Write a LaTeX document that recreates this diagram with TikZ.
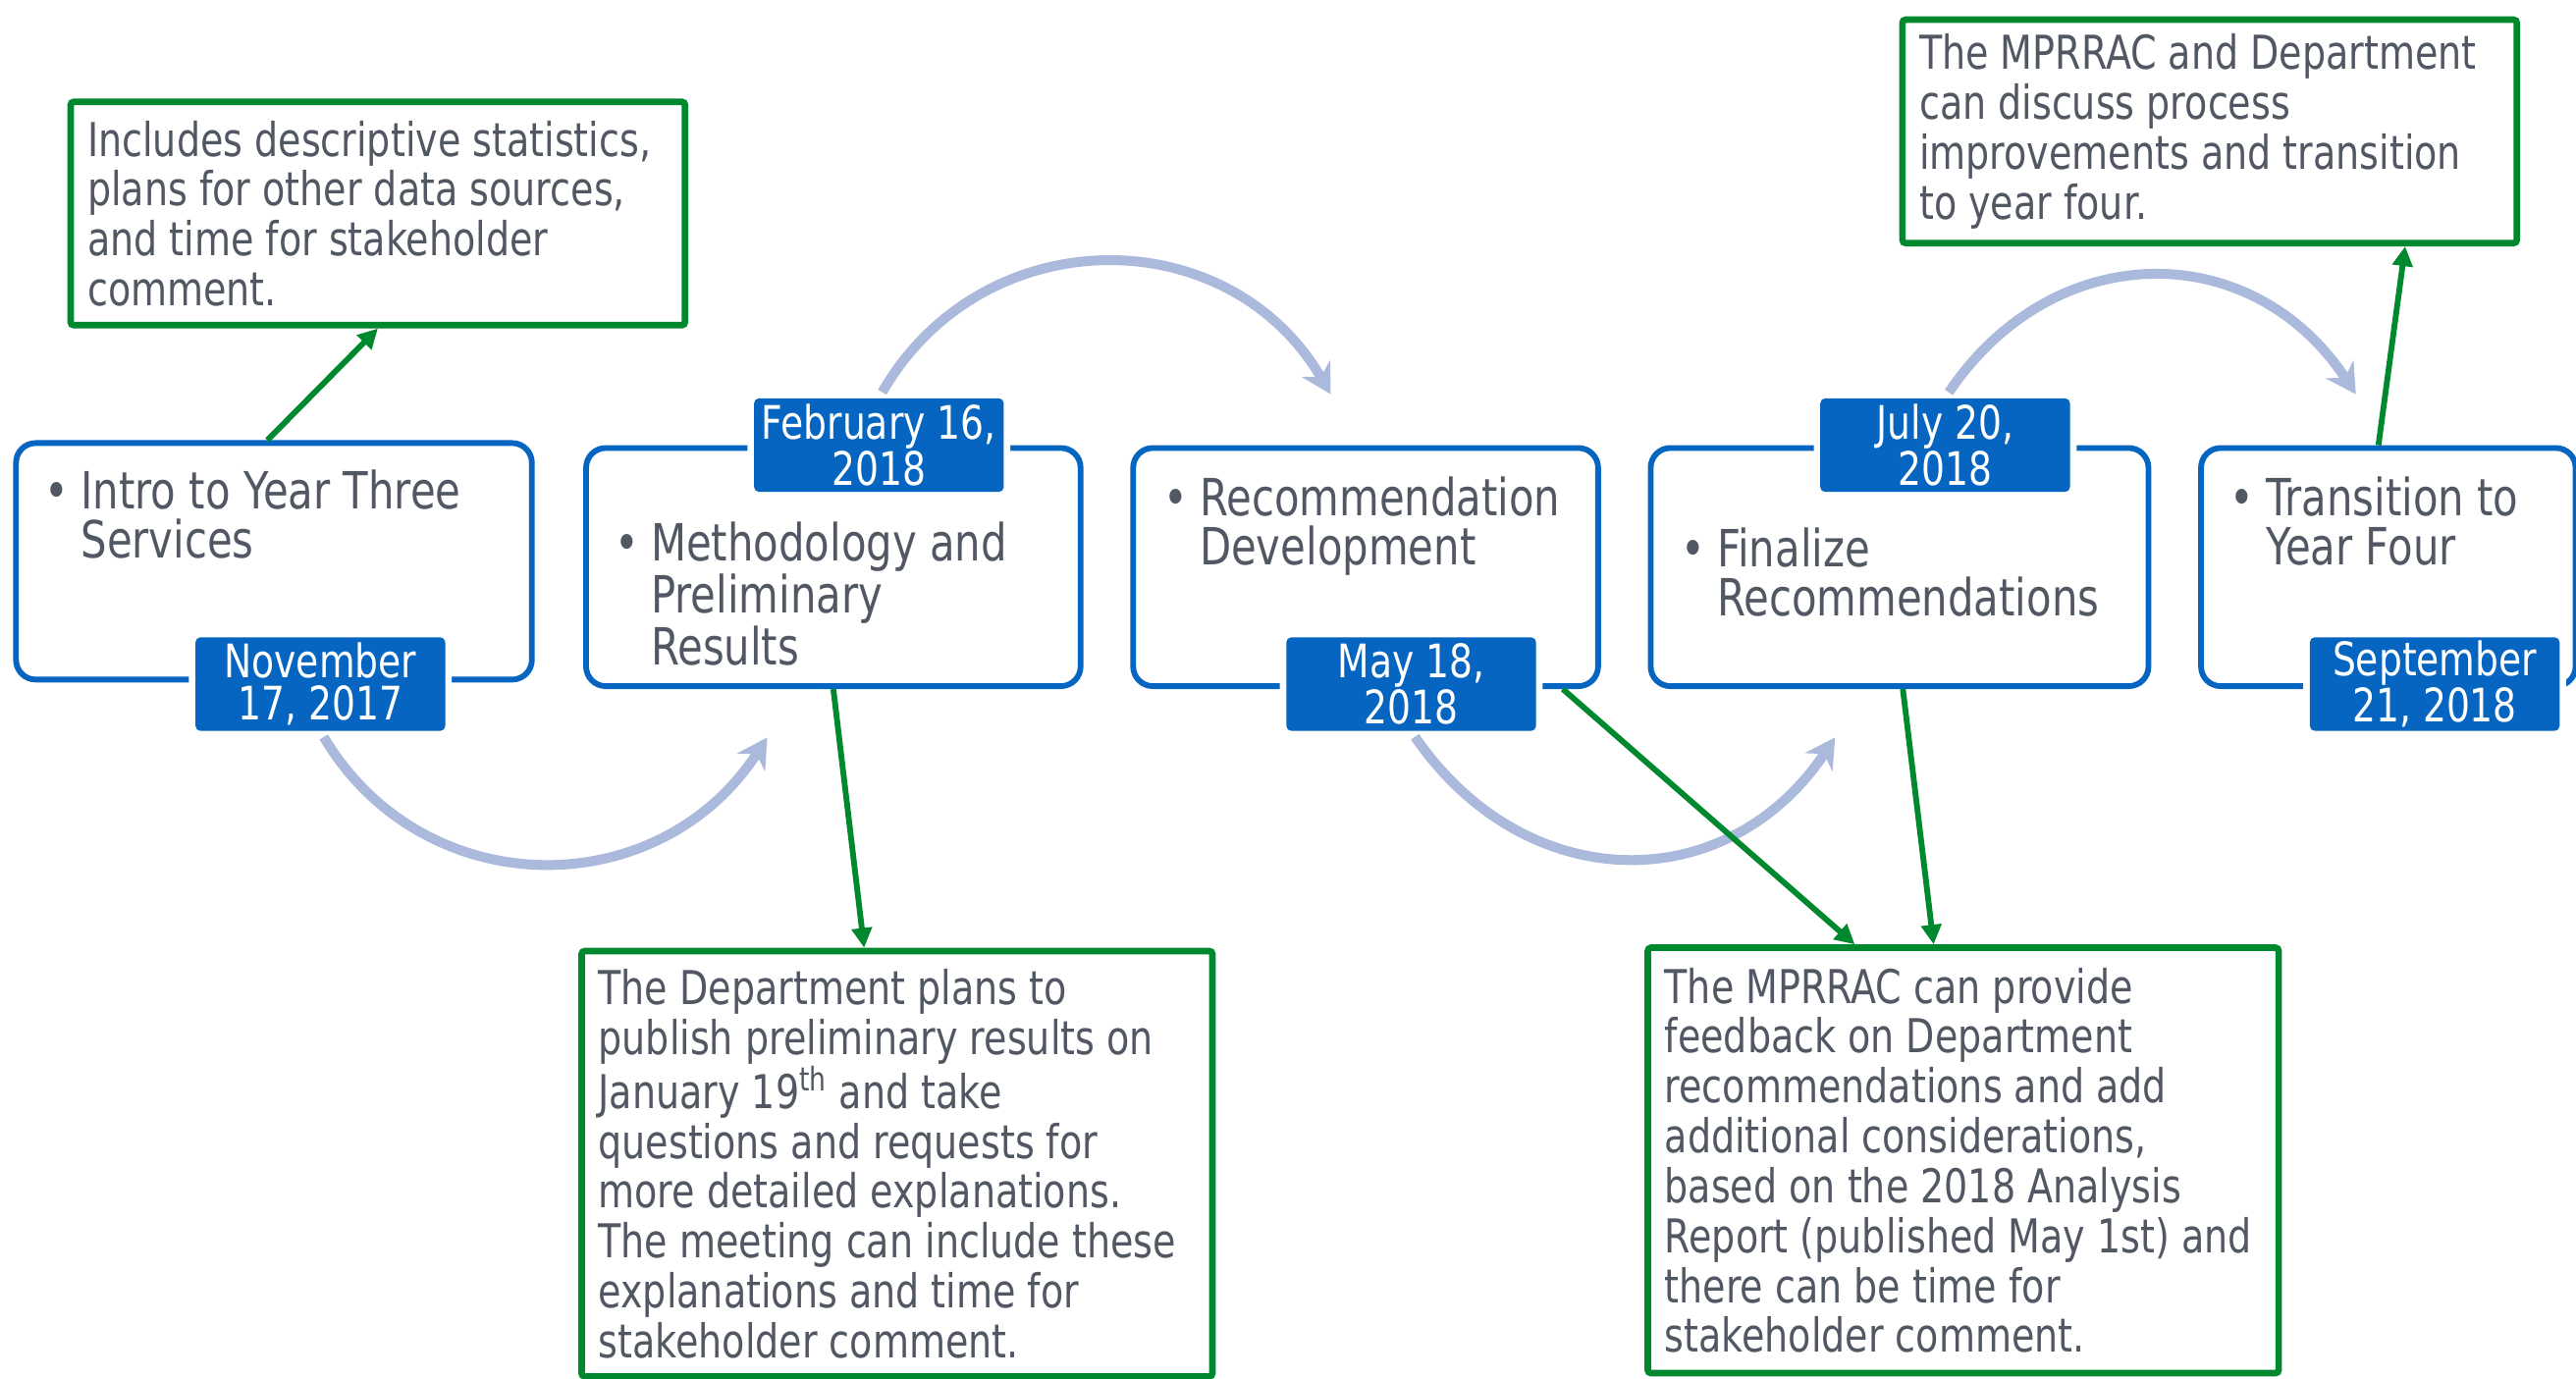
\documentclass[tikz,border=0pt]{standalone}
\usepackage{fontspec}
\setmainfont[FakeStretch=0.8]{DejaVu Sans}
\usetikzlibrary{arrows.meta,positioning}

\newlength{\du}
\setlength{\du}{0.025cm}

\definecolor{stageblue}{RGB}{5,101,193}
\definecolor{notegreen}{RGB}{0,136,46}
\definecolor{flowgrey}{RGB}{170,185,220}
\definecolor{textgrey}{RGB}{82,88,99}

\newcommand{\stagebullet}{\makebox[22\du][l]{•}}
\newcommand{\stagehang}{\hspace*{22\du}}

\tikzset{
  stage/.style={draw=stageblue, line width=3.5\du, rounded corners=12\du, fill=white,
    anchor=north west, inner sep=0pt},
  datebox/.style={fill=stageblue, rounded corners=3\du, text=white, inner sep=0pt,
    minimum width=152\du, minimum height=57\du, align=center,
    font=\fontsize{20pt}{18.4pt}\selectfont, preaction={draw=white, line width=8\du}},
  item/.style={anchor=base west, inner sep=0pt, align=left, text=textgrey,
    font=\fontsize{22.2pt}{21.3pt}\selectfont},
  notebox/.style={draw=notegreen, line width=4\du, rounded corners=2\du, fill=white,
    anchor=north west, inner sep=0pt},
  note/.style={anchor=west, inner sep=0pt, align=left, text=textgrey,
    font=\fontsize{20.2pt}{21.6pt}\selectfont},
  callout/.style={draw=notegreen, line width=3.5\du, -{Triangle[length=0.3cm,width=0.3cm]}},
  flow/.style={draw=flowgrey, line width=6\du, shorten <=0.1cm,
    -{Stealth[length=0.45cm,width=0.5cm,inset=0.15cm]}}
}

\begin{document}
\begin{tikzpicture}[x=\du, y=-\du]
\useasboundingbox (0,0) rectangle (1568,839);

% stages
\node[stage, minimum width=314\du, minimum height=144\du] (box1) at (8,268) {};
\node[stage, minimum width=301\du, minimum height=145\du] (box2) at (355,271) {};
\node[stage, minimum width=283\du, minimum height=145\du] (box3) at (688,271) {};
\node[stage, minimum width=303\du, minimum height=145\du] (box4) at (1003,271) {};
\node[stage, minimum width=228\du, minimum height=145\du] (box5) at (1338,271) {};

% base is the last line
\node[item] (txt1) at (27,340) {\stagebullet Intro to Year Three\\\stagehang Services};
\node[item] (txt2) at (374,405) {\stagebullet Methodology and\\\stagehang Preliminary\\\stagehang Results};
\node[item] (txt3) at (708,344) {\stagebullet Recommendation\\\stagehang Development};
\node[item] (txt4) at (1023,375) {\stagebullet Finalize\\\stagehang Recommendations};
\node[item] (txt5) at (1357,344) {\stagebullet Transition to\\\stagehang Year Four};

% dates
\node[datebox] (date1) at (195,416.5) {November\\17, 2017};
\node[datebox] (date2) at (535,271) {February 16,\\2018};
\node[datebox] (date3) at (859,416.5) {May 18,\\2018};
\node[datebox] (date4) at (1184,271) {July 20,\\2018};
\node[datebox] (date5) at (1482,416.5) {September\\21, 2018};

% flow between stages
\coordinate (tip1) at (467,449);
\coordinate (tip2) at (810,240);
\coordinate (tip3) at (1117,449);
\coordinate (tip4) at (1434,240);
\draw[flow] (date1.south) .. controls (258,551) and (401,551) .. (tip1);
\draw[flow] (date2.north) .. controls (598,133) and (748,133) .. (tip2);
\draw[flow] (date3.south) .. controls (929,547) and (1052,547) .. (tip3);
\draw[flow] (date4.north) .. controls (1250,144) and (1371,144) .. (tip4);

% notes
\node[notebox, minimum width=374\du, minimum height=136\du] (g1) at (41,60) {};
\node[notebox, minimum width=374\du, minimum height=136\du] (g2) at (1156,10) {};
\node[notebox, minimum width=384\du, minimum height=259\du] (g3) at (352,577) {};
\node[notebox, minimum width=384\du, minimum height=259\du] (g4) at (1001,575) {};

\node[note] (n1) at ([xshift=12\du]g1.west) {Includes descriptive statistics,\\plans for other data sources,\\and time for stakeholder\\comment.};
\node[note] (n2) at ([xshift=12\du]g2.west) {The MPRRAC and Department\\can discuss process\\improvements and transition\\to year four.};
\node[note] (n3) at ([xshift=12\du]g3.west) {The Department plans to\\publish preliminary results on\\January 19\textsuperscript{th} and take\\questions and requests for\\more detailed explanations.\\The meeting can include these\\explanations and time for\\stakeholder comment.};
\node[note] (n4) at ([xshift=12\du]g4.west) {The MPRRAC can provide\\feedback on Department\\recommendations and add\\additional considerations,\\based on the 2018 Analysis\\Report (published May 1st) and\\there can be time for\\stakeholder comment.};

\draw[callout] ([xshift=-4\du]box1.north) -- (g1.south);
\draw[callout] (box2.south) -- ([xshift=-20\du]g3.north);
\draw[callout] ([xshift=120\du]box3.south) -- ([xshift=-66\du]g4.north);
\draw[callout] ([xshift=2\du]box4.south) -- ([xshift=-18\du]g4.north);
\draw[callout] ([xshift=-6\du]box5.north) -- ([xshift=119\du]g2.south);
\end{tikzpicture}
\end{document}
